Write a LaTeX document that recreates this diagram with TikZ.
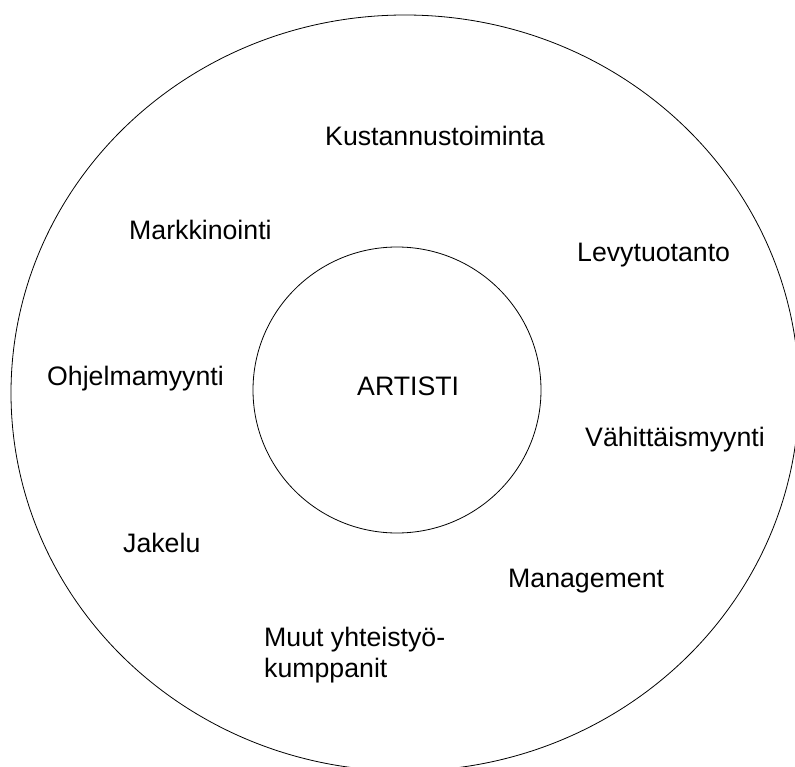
\documentclass[tikz,border=0pt]{standalone}
\usepackage{fontspec}
\setmainfont{Liberation Sans}
\usetikzlibrary{shapes.geometric}
\begin{document}
\begin{tikzpicture}[x=1pt,y=-1pt,
  ring/.style={draw=black, line width=0.8pt, ellipse, inner sep=0pt},
  label/.style={anchor=base west, inner sep=0pt, font=\fontsize{26.7}{31}\selectfont}]
  \useasboundingbox (0,0) rectangle (795,767);
  \clip (0,0) rectangle (795,767);
  % outer ring of partners and inner circle for the artist
  \node[ring, minimum width=788pt, minimum height=756pt] (outer) at (405,393) {};
  \node[ring, minimum width=288pt, minimum height=286pt] (inner) at (397,390) {};
  \node[label] (artist) at (357,395) {ARTISTI};
  % surrounding functions
  \node[label] (kustannus) at (325,146) {Kustannustoiminta};
  \node[label] (markkinointi) at (129,240) {Markkinointi};
  \node[label] (levy) at (577,262) {Levytuotanto};
  \node[label] (ohjelma) at (47,385) {Ohjelmamyynti};
  \node[label] (vahittais) at (585,446) {Vähittäismyynti};
  \node[label] (jakelu) at (123,552) {Jakelu};
  \node[label] (management) at (508,587) {Management};
  % two-line label: base anchor sits on the last line
  \node[label, align=left] (muut) at (264,677) {Muut yhteistyö-\\kumppanit};
\end{tikzpicture}
\end{document}
